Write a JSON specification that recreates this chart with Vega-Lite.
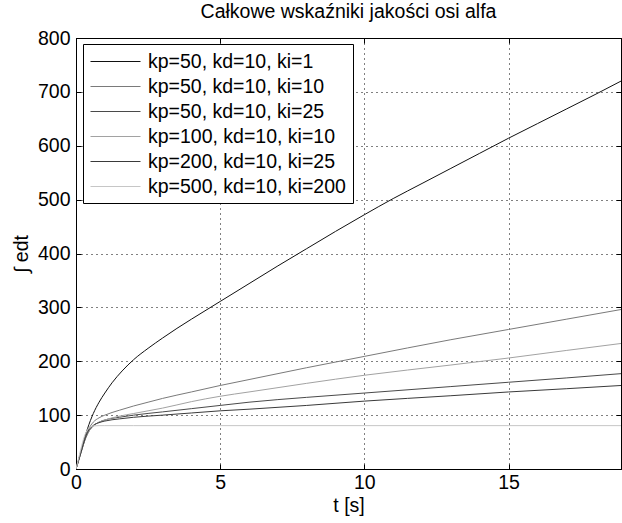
{
  "$schema": "https://vega.github.io/schema/vega-lite/v6.json",
  "width": 545,
  "height": 431,
  "autosize": {"type": "none"},
  "padding": {"left": 76, "top": 38, "right": 1, "bottom": 54},
  "background": "white",
  "title": {"text": "Całkowe wskaźniki jakości osi alfa", "fontSize": 19.5, "font": "Liberation Sans", "fontWeight": "normal", "color": "#000", "anchor": "middle", "offset": 6},
  "config": {"view": {"stroke": "#000", "strokeWidth": 1}, "font": "Liberation Sans"},
  "data": {"values": [
    {"s": "kp=50, kd=10, ki=1", "t": 0, "v": 0},
    {"s": "kp=50, kd=10, ki=1", "t": 0.1, "v": 19},
    {"s": "kp=50, kd=10, ki=1", "t": 0.2, "v": 39},
    {"s": "kp=50, kd=10, ki=1", "t": 0.3, "v": 58},
    {"s": "kp=50, kd=10, ki=1", "t": 0.4, "v": 75},
    {"s": "kp=50, kd=10, ki=1", "t": 0.5, "v": 90},
    {"s": "kp=50, kd=10, ki=1", "t": 0.6, "v": 103},
    {"s": "kp=50, kd=10, ki=1", "t": 0.8, "v": 124},
    {"s": "kp=50, kd=10, ki=1", "t": 1, "v": 141},
    {"s": "kp=50, kd=10, ki=1", "t": 1.25, "v": 160},
    {"s": "kp=50, kd=10, ki=1", "t": 1.6, "v": 182},
    {"s": "kp=50, kd=10, ki=1", "t": 2, "v": 203},
    {"s": "kp=50, kd=10, ki=1", "t": 2.5, "v": 224},
    {"s": "kp=50, kd=10, ki=1", "t": 3, "v": 243},
    {"s": "kp=50, kd=10, ki=1", "t": 3.5, "v": 261},
    {"s": "kp=50, kd=10, ki=1", "t": 4, "v": 278},
    {"s": "kp=50, kd=10, ki=1", "t": 5, "v": 311},
    {"s": "kp=50, kd=10, ki=1", "t": 6, "v": 344},
    {"s": "kp=50, kd=10, ki=1", "t": 7, "v": 377},
    {"s": "kp=50, kd=10, ki=1", "t": 8, "v": 409},
    {"s": "kp=50, kd=10, ki=1", "t": 9, "v": 441},
    {"s": "kp=50, kd=10, ki=1", "t": 10, "v": 472},
    {"s": "kp=50, kd=10, ki=1", "t": 11, "v": 502},
    {"s": "kp=50, kd=10, ki=1", "t": 12, "v": 530},
    {"s": "kp=50, kd=10, ki=1", "t": 13, "v": 558},
    {"s": "kp=50, kd=10, ki=1", "t": 14, "v": 586},
    {"s": "kp=50, kd=10, ki=1", "t": 15, "v": 614},
    {"s": "kp=50, kd=10, ki=1", "t": 16, "v": 641},
    {"s": "kp=50, kd=10, ki=1", "t": 17, "v": 668},
    {"s": "kp=50, kd=10, ki=1", "t": 18, "v": 695},
    {"s": "kp=50, kd=10, ki=1", "t": 18.9, "v": 720},

    {"s": "kp=50, kd=10, ki=10", "t": 0, "v": 0},
    {"s": "kp=50, kd=10, ki=10", "t": 0.1, "v": 18},
    {"s": "kp=50, kd=10, ki=10", "t": 0.2, "v": 37},
    {"s": "kp=50, kd=10, ki=10", "t": 0.3, "v": 55},
    {"s": "kp=50, kd=10, ki=10", "t": 0.4, "v": 70},
    {"s": "kp=50, kd=10, ki=10", "t": 0.5, "v": 80},
    {"s": "kp=50, kd=10, ki=10", "t": 0.6, "v": 87},
    {"s": "kp=50, kd=10, ki=10", "t": 0.8, "v": 95},
    {"s": "kp=50, kd=10, ki=10", "t": 1, "v": 100},
    {"s": "kp=50, kd=10, ki=10", "t": 1.5, "v": 109},
    {"s": "kp=50, kd=10, ki=10", "t": 2, "v": 117},
    {"s": "kp=50, kd=10, ki=10", "t": 2.5, "v": 124},
    {"s": "kp=50, kd=10, ki=10", "t": 3, "v": 131},
    {"s": "kp=50, kd=10, ki=10", "t": 4, "v": 143},
    {"s": "kp=50, kd=10, ki=10", "t": 5, "v": 155},
    {"s": "kp=50, kd=10, ki=10", "t": 6, "v": 166},
    {"s": "kp=50, kd=10, ki=10", "t": 8, "v": 188},
    {"s": "kp=50, kd=10, ki=10", "t": 10, "v": 209},
    {"s": "kp=50, kd=10, ki=10", "t": 13, "v": 240},
    {"s": "kp=50, kd=10, ki=10", "t": 15, "v": 259},
    {"s": "kp=50, kd=10, ki=10", "t": 17, "v": 278},
    {"s": "kp=50, kd=10, ki=10", "t": 18.9, "v": 296},

    {"s": "kp=50, kd=10, ki=25", "t": 0, "v": 0},
    {"s": "kp=50, kd=10, ki=25", "t": 0.1, "v": 17},
    {"s": "kp=50, kd=10, ki=25", "t": 0.2, "v": 35},
    {"s": "kp=50, kd=10, ki=25", "t": 0.3, "v": 52},
    {"s": "kp=50, kd=10, ki=25", "t": 0.4, "v": 65},
    {"s": "kp=50, kd=10, ki=25", "t": 0.5, "v": 74},
    {"s": "kp=50, kd=10, ki=25", "t": 0.6, "v": 80},
    {"s": "kp=50, kd=10, ki=25", "t": 0.8, "v": 87},
    {"s": "kp=50, kd=10, ki=25", "t": 1, "v": 91},
    {"s": "kp=50, kd=10, ki=25", "t": 1.5, "v": 96},
    {"s": "kp=50, kd=10, ki=25", "t": 2, "v": 100},
    {"s": "kp=50, kd=10, ki=25", "t": 3, "v": 106},
    {"s": "kp=50, kd=10, ki=25", "t": 4, "v": 112},
    {"s": "kp=50, kd=10, ki=25", "t": 5, "v": 118},
    {"s": "kp=50, kd=10, ki=25", "t": 6, "v": 124},
    {"s": "kp=50, kd=10, ki=25", "t": 8, "v": 133},
    {"s": "kp=50, kd=10, ki=25", "t": 10, "v": 141},
    {"s": "kp=50, kd=10, ki=25", "t": 13, "v": 153},
    {"s": "kp=50, kd=10, ki=25", "t": 15, "v": 161},
    {"s": "kp=50, kd=10, ki=25", "t": 17, "v": 169},
    {"s": "kp=50, kd=10, ki=25", "t": 18.9, "v": 177},

    {"s": "kp=100, kd=10, ki=10", "t": 0, "v": 0},
    {"s": "kp=100, kd=10, ki=10", "t": 0.1, "v": 18},
    {"s": "kp=100, kd=10, ki=10", "t": 0.2, "v": 36},
    {"s": "kp=100, kd=10, ki=10", "t": 0.3, "v": 53},
    {"s": "kp=100, kd=10, ki=10", "t": 0.4, "v": 66},
    {"s": "kp=100, kd=10, ki=10", "t": 0.5, "v": 74},
    {"s": "kp=100, kd=10, ki=10", "t": 0.6, "v": 80},
    {"s": "kp=100, kd=10, ki=10", "t": 0.8, "v": 87},
    {"s": "kp=100, kd=10, ki=10", "t": 1, "v": 91},
    {"s": "kp=100, kd=10, ki=10", "t": 1.5, "v": 98},
    {"s": "kp=100, kd=10, ki=10", "t": 2, "v": 103},
    {"s": "kp=100, kd=10, ki=10", "t": 2.5, "v": 108},
    {"s": "kp=100, kd=10, ki=10", "t": 3, "v": 113},
    {"s": "kp=100, kd=10, ki=10", "t": 4, "v": 125},
    {"s": "kp=100, kd=10, ki=10", "t": 5, "v": 135},
    {"s": "kp=100, kd=10, ki=10", "t": 6, "v": 143},
    {"s": "kp=100, kd=10, ki=10", "t": 8, "v": 159},
    {"s": "kp=100, kd=10, ki=10", "t": 10, "v": 174},
    {"s": "kp=100, kd=10, ki=10", "t": 13, "v": 193},
    {"s": "kp=100, kd=10, ki=10", "t": 15, "v": 206},
    {"s": "kp=100, kd=10, ki=10", "t": 17, "v": 220},
    {"s": "kp=100, kd=10, ki=10", "t": 18.9, "v": 233},

    {"s": "kp=200, kd=10, ki=25", "t": 0, "v": 0},
    {"s": "kp=200, kd=10, ki=25", "t": 0.1, "v": 18},
    {"s": "kp=200, kd=10, ki=25", "t": 0.2, "v": 36},
    {"s": "kp=200, kd=10, ki=25", "t": 0.3, "v": 54},
    {"s": "kp=200, kd=10, ki=25", "t": 0.4, "v": 68},
    {"s": "kp=200, kd=10, ki=25", "t": 0.5, "v": 76},
    {"s": "kp=200, kd=10, ki=25", "t": 0.6, "v": 81},
    {"s": "kp=200, kd=10, ki=25", "t": 0.8, "v": 86},
    {"s": "kp=200, kd=10, ki=25", "t": 1, "v": 89},
    {"s": "kp=200, kd=10, ki=25", "t": 1.5, "v": 93},
    {"s": "kp=200, kd=10, ki=25", "t": 2, "v": 96},
    {"s": "kp=200, kd=10, ki=25", "t": 3, "v": 100},
    {"s": "kp=200, kd=10, ki=25", "t": 4, "v": 104},
    {"s": "kp=200, kd=10, ki=25", "t": 5, "v": 108},
    {"s": "kp=200, kd=10, ki=25", "t": 6, "v": 111},
    {"s": "kp=200, kd=10, ki=25", "t": 8, "v": 118},
    {"s": "kp=200, kd=10, ki=25", "t": 10, "v": 126},
    {"s": "kp=200, kd=10, ki=25", "t": 13, "v": 136},
    {"s": "kp=200, kd=10, ki=25", "t": 15, "v": 143},
    {"s": "kp=200, kd=10, ki=25", "t": 17, "v": 149},
    {"s": "kp=200, kd=10, ki=25", "t": 18.9, "v": 155},

    {"s": "kp=500, kd=10, ki=200", "t": 0, "v": 0},
    {"s": "kp=500, kd=10, ki=200", "t": 0.1, "v": 22},
    {"s": "kp=500, kd=10, ki=200", "t": 0.2, "v": 44},
    {"s": "kp=500, kd=10, ki=200", "t": 0.3, "v": 62},
    {"s": "kp=500, kd=10, ki=200", "t": 0.4, "v": 73},
    {"s": "kp=500, kd=10, ki=200", "t": 0.5, "v": 78},
    {"s": "kp=500, kd=10, ki=200", "t": 0.6, "v": 80},
    {"s": "kp=500, kd=10, ki=200", "t": 0.8, "v": 80.5},
    {"s": "kp=500, kd=10, ki=200", "t": 1, "v": 80.5},
    {"s": "kp=500, kd=10, ki=200", "t": 2, "v": 80.5},
    {"s": "kp=500, kd=10, ki=200", "t": 5, "v": 80.5},
    {"s": "kp=500, kd=10, ki=200", "t": 10, "v": 80.5},
    {"s": "kp=500, kd=10, ki=200", "t": 15, "v": 80.5},
    {"s": "kp=500, kd=10, ki=200", "t": 18.9, "v": 80.5}
  ]},
  "layer": [
    {
      "mark": {"type": "line", "strokeWidth": 1, "interpolate": "monotone", "clip": true},
      "encoding": {
        "x": {"field": "t", "type": "quantitative", "scale": {"domain": [0, 18.9], "nice": false, "zero": false},
          "axis": {"orient": "bottom", "values": [0, 5, 10, 15], "grid": true, "gridDash": [1, 4], "gridColor": "#000", "gridOpacity": 1, "tickSize": -5, "tickColor": "#000", "domainColor": "#000", "labelFontSize": 19.5, "labelColor": "#000", "labelFont": "Liberation Sans", "labelFlush": false, "labelPadding": 9, "title": "t [s]", "titleFontSize": 19.5, "titleFontWeight": "normal", "titleFont": "Liberation Sans", "titleColor": "#000", "titlePadding": 5}},
        "y": {"field": "v", "type": "quantitative", "scale": {"domain": [0, 800], "nice": false},
          "axis": {"orient": "left", "values": [0, 100, 200, 300, 400, 500, 600, 700, 800], "grid": true, "gridDash": [1, 4], "gridColor": "#000", "gridOpacity": 1, "tickSize": -5, "tickColor": "#000", "domainColor": "#000", "labelFontSize": 19.5, "labelColor": "#000", "labelFont": "Liberation Sans", "labelFlush": false, "labelPadding": 11, "title": "∫ edt", "titleFontSize": 19.5, "titleFontWeight": "normal", "titleFont": "Liberation Sans", "titleColor": "#000", "titlePadding": 6}},
        "color": {"field": "s", "type": "nominal",
          "scale": {"domain": ["kp=50, kd=10, ki=1", "kp=50, kd=10, ki=10", "kp=50, kd=10, ki=25", "kp=100, kd=10, ki=10", "kp=200, kd=10, ki=25", "kp=500, kd=10, ki=200"],
                    "range": ["#111111", "#7a7a7a", "#4a4a4a", "#a2a2a2", "#3a3a3a", "#c6c6c6"]},
          "legend": {"orient": "none", "legendX": 7, "legendY": 6, "title": null, "symbolType": "M-2.5,0H2.5", "symbolSize": 400, "symbolStrokeWidth": 1, "symbolOffset": 15, "labelOffset": 22, "labelFontSize": 19.5, "labelFont": "Liberation Sans", "labelColor": "#000", "rowPadding": 5, "padding": 7, "strokeColor": "#000", "fillColor": "#fff", "cornerRadius": 0, "labelLimit": 400}}
      }
    },
    {
      "mark": {"type": "point", "opacity": 0},
      "encoding": {
        "x": {"field": "t", "type": "quantitative", "axis": {"orient": "top", "values": [0, 5, 10, 15], "labels": false, "grid": false, "tickSize": -5, "tickColor": "#000", "domainColor": "#000", "title": null}},
        "y": {"field": "v", "type": "quantitative", "axis": {"orient": "right", "values": [0, 100, 200, 300, 400, 500, 600, 700, 800], "labels": false, "grid": false, "tickSize": -5, "tickColor": "#000", "domainColor": "#000", "title": null}}
      }
    }
  ],
  "resolve": {"axis": {"x": "independent", "y": "independent"}}
}
